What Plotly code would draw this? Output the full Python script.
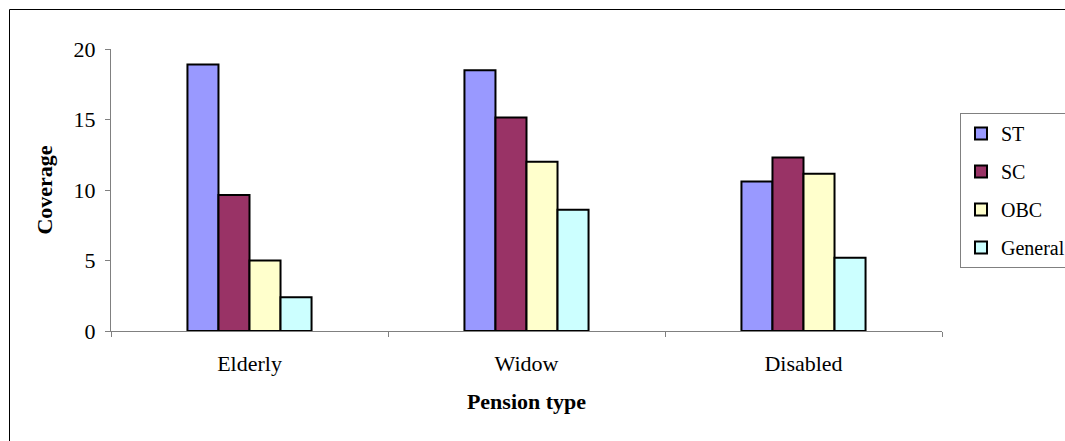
import plotly.graph_objects as go

categories = ["Elderly", "Widow", "Disabled"]
series_names = ["ST", "SC", "OBC", "General"]
st_values = [18.9, 18.5, 10.6]
sc_values = [9.65, 15.15, 12.3]
obc_values = [5.0, 12.0, 11.15]
general_values = [2.4, 8.6, 5.2]
colors = ["#9999FF", "#993366", "#FFFFCC", "#CCFFFF"]
y_ticks = [0, 5, 10, 15, 20]

W, H = 1065, 441
L, R, T, B = 111, 942, 49, 331
pw, ph = R - L, B - T


def px_x(p):
    return (p - L) / pw


def px_y(p):
    return (B - p) / ph


font = "Liberation Serif, Times New Roman, serif"
FS = 22

fig = go.Figure()
for name, vals, col in zip(series_names, [st_values, sc_values, obc_values, general_values], colors):
    fig.add_trace(go.Bar(
        x=categories, y=vals, name=name, legendgroup=name,
        marker=dict(color=col, line=dict(color="#000000", width=2)),
    ))

fig.update_layout(
    width=W, height=H,
    margin=dict(l=L, r=W - R, t=T, b=H - B, pad=0, autoexpand=False),
    paper_bgcolor="white", plot_bgcolor="white",
    barmode="group", bargap=0.552, bargroupgap=0,
    font=dict(family=font, size=FS, color="#000000"),
    showlegend=True,
    legend=dict(
        x=px_x(960), y=px_y(113), xanchor="left", yanchor="top",
        bordercolor="#808080", borderwidth=1, bgcolor="white",
        font=dict(family=font, size=20, color="#000000"),
        traceorder="grouped", tracegroupgap=9,
        itemwidth=30,
    ),
    xaxis=dict(
        showline=True, linecolor="#808080", linewidth=1,
        ticks="outside", tickson="boundaries", ticklen=5, tickcolor="#808080",
        ticklabelstandoff=13,
        showgrid=False, zeroline=False,
        tickfont=dict(family=font, size=FS),
        title=dict(text="<b>Pension type</b>", font=dict(family=font, size=FS), standoff=18),
    ),
    yaxis=dict(
        range=[0, 20], tickvals=y_ticks,
        showline=True, linecolor="#808080", linewidth=1,
        ticks="outside", ticklen=5, tickcolor="#808080",
        ticklabelstandoff=5,
        showgrid=False, zeroline=False,
        tickfont=dict(family=font, size=FS),
        title=dict(text="<b>Coverage</b>", font=dict(family=font, size=FS), standoff=14),
    ),
    shapes=[
        dict(type="line", xref="paper", yref="paper",
             x0=px_x(9.5), x1=px_x(1300), y0=px_y(9.5), y1=px_y(9.5),
             line=dict(color="#000000", width=1), layer="below"),
        dict(type="line", xref="paper", yref="paper",
             x0=px_x(9.5), x1=px_x(9.5), y0=px_y(9.5), y1=px_y(700),
             line=dict(color="#000000", width=1), layer="below"),
    ],
)

fig.write_html(
    "out.html",
    config={"displayModeBar": False},
    post_script="document.body.style.margin='0px';document.documentElement.style.overflow='hidden';",
)
